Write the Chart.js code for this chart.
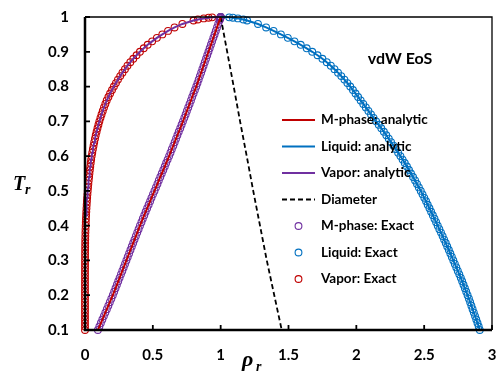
<!DOCTYPE html>
<html>
<head>
<meta charset="utf-8">
<script src="https://cdn.jsdelivr.net/npm/chart.js@4.4.0/dist/chart.umd.min.js"></script>
<style>
  html, body { margin: 0; padding: 0; background: #fff; }
  #wrap { width: 498px; height: 374px; }
</style>
</head>
<body>
<div id="wrap"><canvas id="c" width="498" height="374"></canvas></div>
<script>
// Reduced temperature grid shared by the coexistence branches
const tempR = [
  0.10,0.11,0.12,0.13,0.14,0.15,0.16,0.17,0.18,0.19,
  0.20,0.21,0.22,0.23,0.24,0.25,0.26,0.27,0.28,0.29,
  0.30,0.31,0.32,0.33,0.34,0.35,0.36,0.37,0.38,0.39,
  0.40,0.41,0.42,0.43,0.44,0.45,0.46,0.47,0.48,0.49,
  0.50,0.51,0.52,0.53,0.54,0.55,0.56,0.57,0.58,0.59,
  0.60,0.61,0.62,0.63,0.64,0.65,0.66,0.67,0.68,0.69,
  0.70,0.71,0.72,0.73,0.74,0.75,0.76,0.77,0.78,0.79,
  0.80,0.81,0.82,0.83,0.84,0.85,0.86,0.87,0.88,0.89,
  0.90,0.91,0.92,0.93,0.94,0.95,0.96,0.97,0.98,0.99,
  0.993,0.996,0.998,0.999,1.00
];

// Liquid branch, reduced density
const rhoLiquid = [
  2.910,2.902,2.893,2.884,2.875,2.866,2.857,2.848,2.839,2.830,
  2.820,2.810,2.800,2.790,2.780,2.770,2.759,2.748,2.737,2.726,
  2.715,2.704,2.693,2.682,2.670,2.659,2.647,2.636,2.624,2.612,
  2.600,2.588,2.576,2.564,2.551,2.539,2.526,2.514,2.501,2.488,
  2.475,2.461,2.447,2.433,2.418,2.403,2.388,2.373,2.357,2.341,
  2.325,2.308,2.291,2.274,2.256,2.239,2.221,2.203,2.184,2.165,
  2.146,2.127,2.108,2.089,2.070,2.051,2.032,2.013,1.994,1.975,
  1.955,1.934,1.912,1.889,1.865,1.839,1.812,1.782,1.750,1.714,
  1.675,1.634,1.590,1.544,1.495,1.444,1.390,1.335,1.275,1.195,
  1.167,1.127,1.090,1.063,1.000
];

// Vapor branch, reduced density
const rhoVapor = [
  0,0,0,0,0,0,0,0,0,0,
  0.000002,0.000005,0.00001,0.00002,0.00003,0.00005,0.00008,0.00013,0.0002,0.0003,
  0.0004,0.0005,0.0007,0.0009,0.0012,0.0015,0.0019,0.0025,0.0031,0.0039,
  0.0048,0.0058,0.0069,0.0082,0.0095,0.0110,0.0125,0.0142,0.0160,0.0180,
  0.0200,0.0223,0.0247,0.0273,0.0300,0.0328,0.0357,0.0388,0.0420,0.0454,
  0.0490,0.0535,0.0580,0.0630,0.0680,0.0735,0.0790,0.0855,0.0920,0.0990,
  0.1060,0.1140,0.1220,0.1310,0.1400,0.1500,0.1600,0.1725,0.1850,0.1990,
  0.2130,0.2280,0.2430,0.2595,0.2760,0.2945,0.3130,0.3340,0.3560,0.3800,
  0.4050,0.4330,0.4620,0.4950,0.5300,0.5700,0.6120,0.6600,0.7180,0.8000,
  0.832,0.875,0.911,0.937,1.000
];

// M-phase branch, reduced density
const rhoMphase = [
  0.095,0.106,0.117,0.128,0.139,0.150,0.161,0.172,0.183,0.194,
  0.205,0.215,0.225,0.235,0.245,0.255,0.265,0.275,0.285,0.295,
  0.305,0.315,0.325,0.335,0.345,0.355,0.365,0.375,0.385,0.395,
  0.405,0.416,0.426,0.437,0.447,0.458,0.469,0.480,0.490,0.501,
  0.512,0.523,0.534,0.544,0.555,0.566,0.577,0.588,0.598,0.609,
  0.620,0.630,0.640,0.651,0.661,0.671,0.681,0.691,0.702,0.712,
  0.722,0.732,0.742,0.751,0.761,0.771,0.781,0.790,0.800,0.810,
  0.820,0.829,0.838,0.847,0.856,0.865,0.874,0.883,0.892,0.901,
  0.910,0.919,0.928,0.937,0.946,0.955,0.964,0.973,0.982,0.991,
  0.994,0.996,0.998,0.999,1.000
];

// Rectilinear diameter
const tempDiameter = [1.0, 0.9, 0.8, 0.7, 0.6, 0.5, 0.4, 0.3, 0.2, 0.1];
const rhoDiameter  = [1.000, 1.048, 1.096, 1.143, 1.192, 1.240, 1.290, 1.340, 1.395, 1.450];

// Axis ticks
const xTicks = [0, 0.5, 1, 1.5, 2, 2.5, 3];
const xTickLabels = ['0', '0.5', '1', '1.5', '2', '2.5', '3'];
const yTicks = [0.1, 0.2, 0.3, 0.4, 0.5, 0.6, 0.7, 0.8, 0.9, 1];
const yTickLabels = ['0.1', '0.2', '0.3', '0.4', '0.5', '0.6', '0.7', '0.8', '0.9', '1'];

const RED = '#C00000';
const BLUE = '#0070C0';
const PURPLE = '#7030A0';
const FONT = 'Lato, "Liberation Sans", sans-serif';

const pts = (xs, ys) => xs.map((x, i) => ({ x: x, y: ys[i] }));

function lineSet(label, xs, ys, color, dash, width) {
  return {
    label, data: pts(xs, ys), showLine: true, borderColor: color,
    borderWidth: width, borderDash: dash || [], pointRadius: 0,
    pointHoverRadius: 0, tension: 0, clip: false, kind: 'line'
  };
}
function markerSet(label, xs, ys, color) {
  return {
    label, data: pts(xs, ys), showLine: false, pointRadius: 3.4,
    pointBorderWidth: 1.1, pointBorderColor: color,
    pointBackgroundColor: 'rgba(0,0,0,0)', borderColor: color,
    pointStyle: 'circle', clip: false, kind: 'marker'
  };
}

// Frame, inward ticks, titles and legend
const decor = {
  id: 'decor',
  afterDraw(chart) {
    const ctx = chart.ctx;
    const a = chart.chartArea;
    const xs = chart.scales.x, ys = chart.scales.y;
    ctx.save();
    ctx.strokeStyle = '#000';

    // thin top / right border
    ctx.lineWidth = 1.3;
    ctx.beginPath();
    ctx.moveTo(a.left, a.top); ctx.lineTo(a.right, a.top); ctx.lineTo(a.right, a.bottom);
    ctx.stroke();
    // heavy axes
    ctx.lineWidth = 2.5;
    ctx.beginPath();
    ctx.moveTo(a.left, a.top); ctx.lineTo(a.left, a.bottom); ctx.lineTo(a.right, a.bottom);
    ctx.stroke();

    // inward tick marks
    ctx.lineWidth = 1.8;
    ctx.beginPath();
    xTicks.forEach(v => {
      const px = xs.getPixelForValue(v);
      ctx.moveTo(px, a.bottom); ctx.lineTo(px, a.bottom - 5);
    });
    yTicks.forEach(v => {
      const py = ys.getPixelForValue(v);
      ctx.moveTo(a.left, py); ctx.lineTo(a.left + 5, py);
    });
    ctx.stroke();

    ctx.fillStyle = '#000';
    // axis titles
    ctx.textBaseline = 'alphabetic';
    ctx.textAlign = 'left';
    ctx.font = 'italic bold 20px "Liberation Serif", serif';
    ctx.fillText('T', 13, 190);
    ctx.font = 'italic bold 14px "Liberation Serif", serif';
    ctx.fillText('r', 25, 194);
    ctx.font = 'italic bold 22px "Liberation Serif", serif';
    ctx.fillText('\u03C1', 242, 366);
    ctx.font = 'italic bold 14px "Liberation Serif", serif';
    ctx.fillText('r', 256, 371);

    // title
    ctx.font = 'bold 16px ' + FONT;
    ctx.textAlign = 'center';
    ctx.textBaseline = 'middle';
    ctx.fillText('vdW EoS', 400, 59);

    // legend
    const lx0 = 282, lx1 = 315, tx = 321, y0 = 120, gap = 26.5;
    ctx.font = 'bold 13.5px ' + FONT;
    ctx.textAlign = 'left';
    chart.data.datasets.forEach((ds, i) => {
      const y = y0 + i * gap;
      if (ds.kind === 'line') {
        ctx.save();
        ctx.strokeStyle = ds.borderColor;
        ctx.lineWidth = ds.borderWidth;
        ctx.setLineDash(ds.borderDash || []);
        ctx.beginPath(); ctx.moveTo(lx0, y); ctx.lineTo(lx1, y); ctx.stroke();
        ctx.restore();
      } else {
        ctx.save();
        ctx.strokeStyle = ds.pointBorderColor;
        ctx.lineWidth = 1.1;
        ctx.beginPath(); ctx.arc((lx0 + lx1) / 2, y, 3.4, 0, Math.PI * 2); ctx.stroke();
        ctx.restore();
      }
      ctx.fillStyle = '#000';
      ctx.fillText(ds.label, tx, y);
    });
    ctx.restore();
  }
};

new Chart(document.getElementById('c'), {
  type: 'scatter',
  data: {
    datasets: [
      lineSet('M-phase: analytic', rhoMphase, tempR, RED, null, 2),
      lineSet('Liquid: analytic', rhoLiquid, tempR, BLUE, null, 2),
      lineSet('Vapor: analytic', rhoVapor, tempR, PURPLE, null, 2),
      lineSet('Diameter', rhoDiameter, tempDiameter, '#000', [5, 3], 1.8),
      markerSet('M-phase: Exact', rhoMphase, tempR, PURPLE),
      markerSet('Liquid: Exact', rhoLiquid, tempR, BLUE),
      markerSet('Vapor: Exact', rhoVapor, tempR, RED)
    ]
  },
  options: {
    responsive: false,
    animation: false,
    devicePixelRatio: 1,
    layout: { padding: { left: 0, top: 17, right: 6, bottom: 0 } },
    plugins: { legend: { display: false }, tooltip: { enabled: false } },
    scales: {
      x: {
        type: 'linear', min: 0, max: 3,
        grid: { display: false, drawTicks: false },
        border: { display: false },
        afterBuildTicks: s => { s.ticks = xTicks.map(v => ({ value: v })); },
        afterFit: s => { s.height = 44; s.paddingLeft = 0; s.paddingRight = 0; },
        ticks: {
          color: '#000', padding: 16, autoSkip: false, maxRotation: 0,
          font: { family: FONT, weight: 'bold', size: 15 },
          callback: (v, i) => xTickLabels[i]
        }
      },
      y: {
        type: 'linear', min: 0.1, max: 1,
        grid: { display: false, drawTicks: false },
        border: { display: false },
        afterBuildTicks: s => { s.ticks = yTicks.map(v => ({ value: v })); },
        afterFit: s => { s.width = 85; s.paddingTop = 0; s.paddingBottom = 0; },
        ticks: {
          color: '#000', padding: 16, autoSkip: false,
          font: { family: FONT, weight: 'bold', size: 15 },
          callback: (v, i) => yTickLabels[i]
        }
      }
    }
  },
  plugins: [decor]
});
</script>
</body>
</html>
